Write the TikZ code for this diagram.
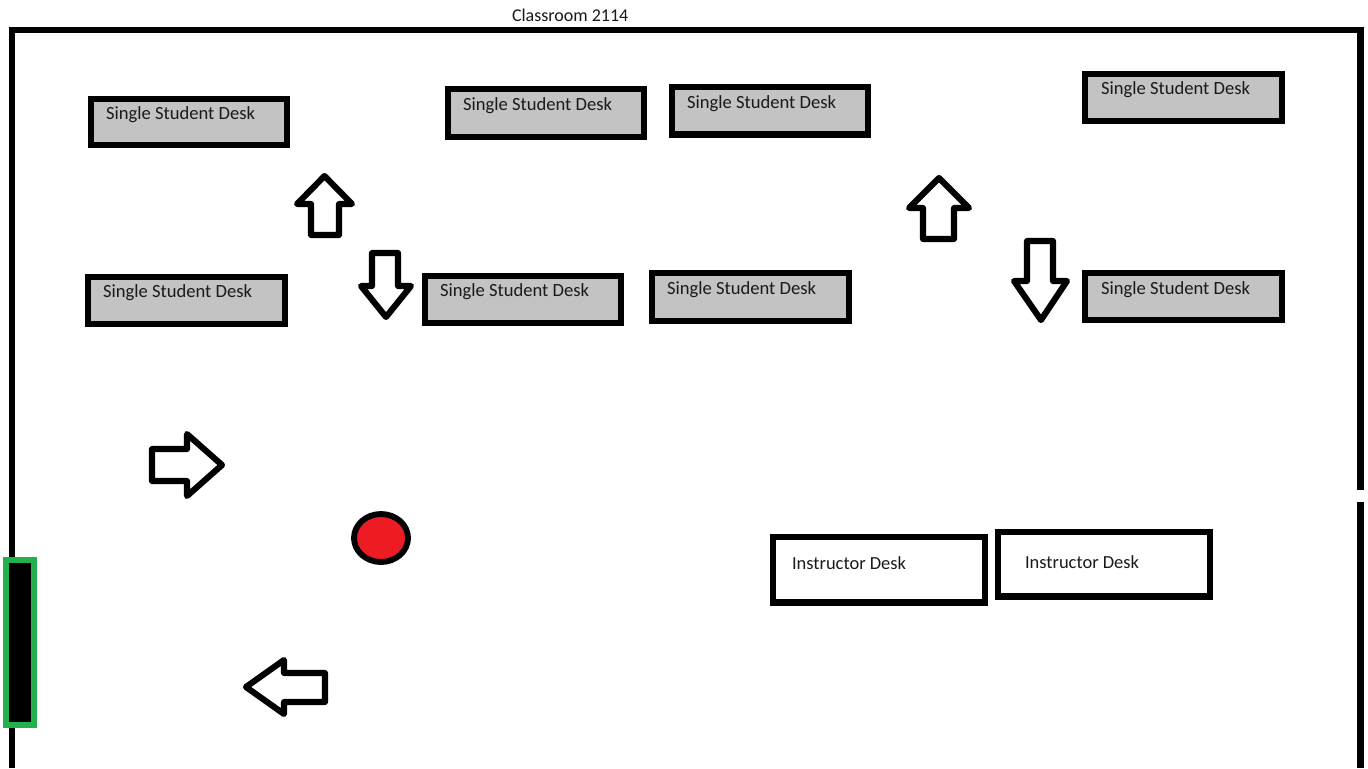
\documentclass[tikz,border=0pt]{standalone}
\usepackage{fontspec}
\setmainfont{Carlito}
\definecolor{deskgrey}{HTML}{C3C3C3}
\definecolor{doorgreen}{HTML}{22B14C}
\definecolor{dotred}{HTML}{ED1C24}
\definecolor{inkgrey}{HTML}{1A1A1A}
\tikzset{
  wall/.style={draw=black,line width=4.8pt,line cap=butt,line join=miter},
  deskbox/.style={draw=black,fill=deskgrey,line width=5pt,line join=miter},
  teacherbox/.style={draw=black,fill=white,line width=5pt,line join=miter},
  lbl/.style={anchor=base west,inner sep=0pt,outer sep=0pt,text=inkgrey,font=\fontsize{13.95pt}{16pt}\selectfont},
  titlelbl/.style={lbl,font=\fontsize{13.5pt}{16pt}\selectfont},
  teacherlbl/.style={lbl,font=\fontsize{13.85pt}{16pt}\selectfont},
  flow/.style={draw=black,fill=white,line width=4.6pt,line join=round},
  door/.style={draw=doorgreen,fill=black,line width=4.5pt,line join=miter},
  spot/.style={draw=black,fill=dotred,line width=4.4pt}
}
\begin{document}
\begin{tikzpicture}[x=0.75pt,y=-0.75pt]
\useasboundingbox (0,0) rectangle (1368,768);
\fill[white] (0,0) rectangle (1368,768);
% walls
\draw[wall] (12,768) -- (12,30) -- (1360.5,30) -- (1360.5,490);
\draw[wall] (1360.5,502) -- (1360.5,768);
% door
\draw[door] (5.7,560.3) rectangle (33.7,725.3);
% title
\node[titlelbl] (title) at (512,21.7) {Classroom 2114};
% student desks
\draw[deskbox] (91,99) rectangle (287,145);
\node[lbl] (d1) at (106,119) {Single Student Desk};
\draw[deskbox] (448,89) rectangle (644,137);
\node[lbl] (d2) at (463,110) {Single Student Desk};
\draw[deskbox] (672,87) rectangle (868,134.5);
\node[lbl] (d3) at (687,108) {Single Student Desk};
\draw[deskbox] (1085,74) rectangle (1282,121);
\node[lbl] (d4) at (1101,94) {Single Student Desk};
\draw[deskbox] (88,277) rectangle (285,324);
\node[lbl] (d5) at (103,297) {Single Student Desk};
\draw[deskbox] (425,276) rectangle (621,323);
\node[lbl] (d6) at (440,296) {Single Student Desk};
\draw[deskbox] (652,273) rectangle (849,321);
\node[lbl] (d7) at (667,294) {Single Student Desk};
\draw[deskbox] (1085,273) rectangle (1282,320);
\node[lbl] (d8) at (1101,294) {Single Student Desk};
% instructor desks
\draw[teacherbox] (773,537) rectangle (985,602.5);
\node[teacherlbl] (i1) at (792,569) {Instructor Desk};
\draw[teacherbox] (998,532) rectangle (1210,596.5);
\node[teacherlbl] (i2) at (1025,568) {Instructor Desk};
% flow arrows
\draw[flow] (324.5,176) -- (352,204) -- (339,204) -- (339,235) -- (311,235) -- (311,204) -- (297,204) -- cycle;
\draw[flow] (372,253) -- (398,253) -- (398,286) -- (411,286) -- (386,317) -- (361,286) -- (372,286) -- cycle;
\draw[flow] (939,178) -- (969,208) -- (954,208) -- (954,239) -- (923,239) -- (923,208) -- (909,208) -- cycle;
\draw[flow] (1027,241) -- (1053,241) -- (1053,281) -- (1067,281) -- (1041,320) -- (1014,281) -- (1027,281) -- cycle;
\draw[flow] (152,449) -- (187,449) -- (187,434) -- (222,465) -- (187,496) -- (187,481) -- (152,481) -- cycle;
\draw[flow] (246,687) -- (284,660) -- (284,673) -- (325,673) -- (325,702) -- (284,702) -- (284,714) -- cycle;
% red marker
\draw[spot] (381,538) ellipse [x radius=27,y radius=24];
\end{tikzpicture}
\end{document}
